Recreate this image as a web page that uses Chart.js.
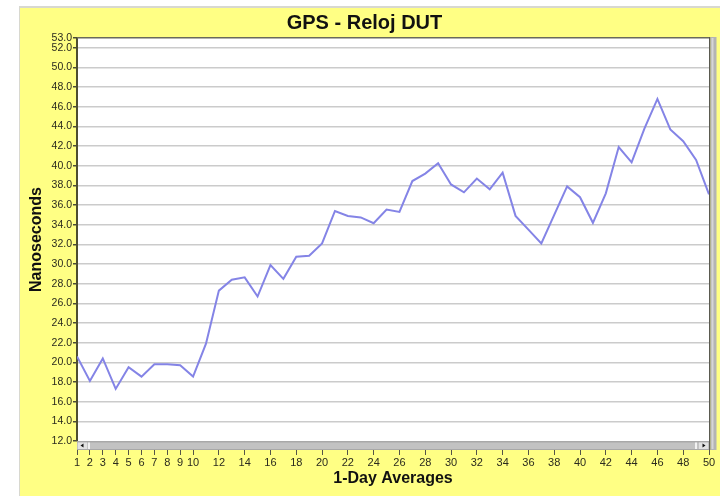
<!DOCTYPE html>
<html>
<head>
<meta charset="utf-8">
<script src="https://cdn.jsdelivr.net/npm/chart.js@4.4.1/dist/chart.umd.min.js"></script>
<style>
  html, body { margin: 0; background: #fff; }
  canvas { display: block; }
</style>
</head>
<body>
<canvas id="chart" width="720" height="496"></canvas>
<script>
/* GPS - Reloj DUT, 1-day averages (ns) */
const days = [
  1, 2, 3, 4, 5, 6, 7, 8, 9, 10, 11, 12, 13, 14, 15, 16, 17, 18, 19, 20,
  21, 22, 23, 24, 25, 26, 27, 28, 29, 30, 31, 32, 33, 34, 35, 36, 37, 38, 39, 40,
  41, 42, 43, 44, 45, 46, 47, 48, 49, 50,
];
const offsetNs = [
  20.6, 18.1, 20.4, 17.3, 19.5, 18.55, 19.8, 19.8, 19.7, 18.55,
  21.9, 27.3, 28.4, 28.65, 26.7, 29.9, 28.5, 30.75, 30.85, 32.1,
  35.4, 34.9, 34.75, 34.15, 35.55, 35.3, 38.45, 39.2, 40.25, 38.1,
  37.3, 38.7, 37.6, 39.3, 34.9, 33.5, 32.1, 35.0, 37.9, 36.8,
  34.2, 37.2, 41.9, 40.35, 43.8, 46.8, 43.7, 42.5, 40.6, 37.1,
];
const xTicks = [1, 2, 3, 4, 5, 6, 7, 8, 9, 10, 12, 14, 16, 18, 20, 22, 24, 26, 28, 30,
  32, 34, 36, 38, 40, 42, 44, 46, 48, 50];
const yTicks = [12, 14, 16, 18, 20, 22, 24, 26, 28, 30, 32, 34, 36, 38, 40, 42, 44, 46,
  48, 50, 52, 53];

const FONT = "'Liberation Sans', Arial, sans-serif";
const PAD = { left: 20, top: 8, right: 11, bottom: 0 };

const panel = {
  id: "panel",
  beforeDraw(chart) {
    const { ctx, width, height, chartArea: a } = chart;
    ctx.save();
    ctx.fillStyle = "#ffffff";
    ctx.fillRect(0, 0, width, height);
    ctx.fillStyle = "#d8d8d0";
    ctx.fillRect(PAD.left - 1, PAD.top - 2, width, 2);
    ctx.fillRect(PAD.left - 1, PAD.top - 2, 1, height);
    ctx.fillStyle = "#ffff84";
    ctx.fillRect(PAD.left, PAD.top, width - PAD.left, height - PAD.top);
    ctx.fillStyle = "#ffffff";
    ctx.fillRect(a.left, a.top, a.width, a.height);
    ctx.restore();
  },
  afterDraw(chart) {
    const { ctx, chartArea: a } = chart;
    ctx.save();
    // top border
    ctx.fillStyle = "#6a6a5a";
    ctx.fillRect(a.left, a.top - 1, a.width, 1.5);
    // right border + vertical scrollbar
    ctx.fillStyle = "#5a5a50";
    ctx.fillRect(a.right, a.top - 1, 1.5, a.height + 10);
    ctx.fillStyle = "#b4b4b4";
    ctx.fillRect(a.right + 1.5, a.top - 1, 6, a.height + 10);
    ctx.fillStyle = "#d6d6d6";
    ctx.fillRect(a.right + 2.5, a.top, 2, a.height + 8);
    // horizontal scrollbar
    const sy = a.bottom, sh = 9;
    ctx.fillStyle = "#c2c2c2";
    ctx.fillRect(a.left, sy, a.width, sh);
    ctx.fillStyle = "#a8a8a8";
    ctx.fillRect(a.left, sy, a.width, 1.5);
    ctx.fillRect(a.left, sy + sh - 1, a.width, 1);
    // end buttons
    ctx.fillStyle = "#e2e2e2";
    ctx.fillRect(a.left + 1, sy + 1.5, 9, sh - 2.5);
    ctx.fillRect(a.right - 10, sy + 1.5, 9, sh - 2.5);
    ctx.fillStyle = "#f2f2f2";
    ctx.fillRect(a.left + 11, sy + 1.5, 2, sh - 2.5);
    ctx.fillRect(a.right - 14, sy + 1.5, 2, sh - 2.5);
    ctx.fillStyle = "#111";
    ctx.beginPath();
    ctx.moveTo(a.left + 3.5, sy + 4.5);
    ctx.lineTo(a.left + 6.5, sy + 2.5);
    ctx.lineTo(a.left + 6.5, sy + 6.5);
    ctx.fill();
    ctx.beginPath();
    ctx.moveTo(a.right - 3.5, sy + 4.5);
    ctx.lineTo(a.right - 6.5, sy + 2.5);
    ctx.lineTo(a.right - 6.5, sy + 6.5);
    ctx.fill();
    ctx.restore();
  },
};

new Chart(document.getElementById("chart"), {
  type: "line",
  data: {
    datasets: [{
      data: days.map((d, i) => ({ x: d, y: offsetNs[i] })),
      borderColor: "#8484e6",
      borderWidth: 2,
      pointRadius: 0,
      tension: 0,
      fill: false,
    }],
  },
  options: {
    responsive: false,
    animation: false,
    devicePixelRatio: 1,
    layout: { padding: PAD },
    plugins: {
      legend: { display: false },
      tooltip: { enabled: false },
      title: {
        display: true,
        text: "GPS - Reloj DUT",
        color: "#111",
        font: { family: FONT, size: 20, weight: "bold", lineHeight: 1.2 },
        padding: { top: 3, bottom: 3 },
      },
    },
    scales: {
      x: {
        type: "linear",
        min: 1, max: 50,
        afterBuildTicks: (s) => { s.ticks = xTicks.map((v) => ({ value: v })); },
        afterFit: (s) => { s.height = 55; },
        grid: { drawOnChartArea: false, drawTicks: true, tickLength: 14, tickColor: "#555548", lineWidth: 1 },
        border: { display: false },
        ticks: {
          autoSkip: false, maxRotation: 0, padding: 1,
          color: "#2a2a1e",
          font: { family: FONT, size: 11 },
          callback: (v) => String(v),
        },
        title: {
          display: true,
          text: "1-Day Averages",
          color: "#111",
          font: { family: FONT, size: 16, weight: "bold", lineHeight: 1.2 },
          padding: { top: 0, bottom: 7.5 },
        },
      },
      y: {
        min: 12, max: 53,
        afterBuildTicks: (s) => { s.ticks = yTicks.map((v) => ({ value: v })); },
        afterFit: (s) => { s.width = 57; },
        grid: {
          color: (c) => (c.tick && (c.tick.value === 53 || c.tick.value === 12) ? "rgba(0,0,0,0)" : "#cbcbcb"),
          lineWidth: 1.5,
          tickLength: 4,
          tickColor: "#4a4a38",
        },
        border: { display: true, color: "#4e4e30", width: 2 },
        ticks: {
          autoSkip: false, padding: 1,
          color: "#2a2a1e",
          font: { family: FONT, size: 10.5 },
          callback: (v) => Number(v).toFixed(1),
        },
        title: {
          display: true,
          text: "Nanoseconds",
          color: "#111",
          font: { family: FONT, size: 16, weight: "bold", lineHeight: 1.2 },
          padding: { top: 6.5, bottom: 0 },
        },
      },
    },
  },
  plugins: [panel],
});
</script>
</body>
</html>
